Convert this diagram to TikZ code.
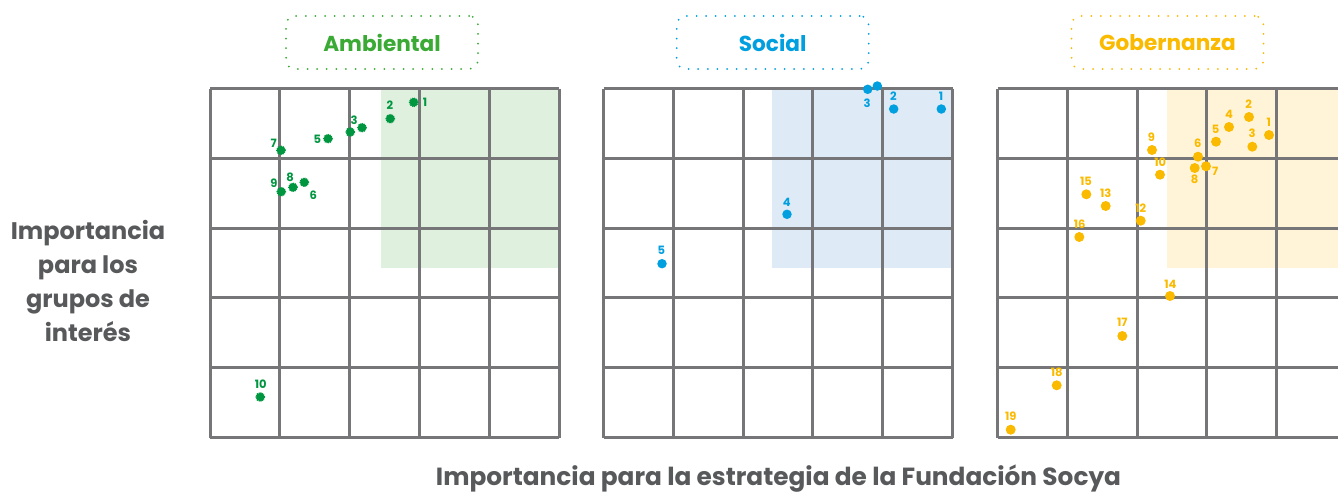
\documentclass[tikz,border=0pt]{standalone}
\usepackage{fontspec}
\setmainfont{Poppins}
\definecolor{gridc}{RGB}{118,118,121}
\definecolor{txt}{RGB}{88,89,91}
\definecolor{gtitle}{RGB}{58,170,53}
\definecolor{gdot}{RGB}{0,150,64}
\definecolor{bdot}{RGB}{0,159,223}
\definecolor{ydot}{RGB}{250,186,0}
\definecolor{gshade}{RGB}{224,240,222}
\definecolor{bshade}{RGB}{222,234,245}
\definecolor{yshade}{RGB}{255,244,215}
\tikzset{
  gridline/.style={draw=gridc, line width=3pt},
  titlebox/.style={rounded corners=9pt, line width=2pt, dash pattern=on 0pt off 9.6pt, line cap=round,
     minimum width=192pt, minimum height=53pt, inner sep=0pt, font=\fontsize{21.6}{25}\selectfont\bfseries},
  gmark/.style={circle, fill=gdot, draw=gdot, line width=1.3pt, dash pattern=on 0.9pt off 0.9pt, minimum size=8.5pt, inner sep=0pt},
  bmark/.style={circle, fill=bdot, minimum size=9.5pt, inner sep=0pt},
  ymark/.style={circle, fill=ydot, minimum size=10pt, inner sep=0pt},
  numlab/.style={font=\fontsize{11.5}{13}\selectfont\bfseries, inner sep=0pt},
  glab/.style={numlab, text=gdot},
  blab/.style={numlab, text=bdot},
  ylab/.style={numlab, text=ydot},
  axislab/.style={text=txt, font=\fontsize{24}{33.7}\selectfont\bfseries, align=center, inner sep=0pt},
}
\begin{document}
\begin{tikzpicture}[x=1pt,y=-1pt]
\useasboundingbox (0,0) rectangle (1338,495);
\clip (0,0) rectangle (1338,495);
\fill[white] (0,0) rectangle (1338,495);
% shaded zones
\fill[gshade] (381,88.5) rectangle (559,267.7);
\fill[bshade] (772,88.5) rectangle (952.5,267.7);
\fill[yshade] (1167,88.5) rectangle (1346.5,267.7);
% grids
\foreach \ox in {210,603.5,997.5}{
  \foreach \k in {0,...,5}{
    \draw[gridline] ({\ox+\k*69.8},88.5) -- ({\ox+\k*69.8},437.5);
    \draw[gridline] (\ox,{88.5+\k*69.8}) -- ({\ox+349},{88.5+\k*69.8});
  }
}
% titles
\node[titlebox, draw=gtitle, text=gtitle] (tA) at (382,42.5) {Ambiental};
\node[titlebox, draw=bdot, text=bdot] (tS) at (772.7,42.5) {Social};
\node[titlebox, draw=ydot, text=ydot] (tG) at (1167.5,42.5) {Gobernanza};
% axis labels
\node[axislab] (ly) at (88,281) {Importancia\\para los\\grupos de\\interés};
\node[axislab, anchor=base, font=\fontsize{24.8}{30}\selectfont\bfseries] (lx) at (778.5,485) {Importancia para la estrategia de la Fundación Socya};
% Ambiental markers
\node[gmark] (a1) at (413.7,102.3) {};
\node[gmark] (a2) at (390.3,118.7) {};
\node[gmark] (a3) at (350.3,132) {};
\node[gmark] (a3b) at (362,127.7) {};
\node[gmark] (a5) at (328,138.7) {};
\node[gmark] (a7) at (281,150.3) {};
\node[gmark] (a9) at (281.3,191.7) {};
\node[gmark] (a8) at (293,187.3) {};
\node[gmark] (a6) at (304.3,182.3) {};
\node[gmark] (a10) at (260.3,397) {};
\node[glab] (la1) at (425,102.7) {1};
\node[glab] (la2) at (390,105.7) {2};
\node[glab] (la3) at (354,120.3) {3};
\node[glab] (la5) at (317.3,139.3) {5};
\node[glab] (la7) at (273.7,143.3) {7};
\node[glab] (la9) at (274,183.3) {9};
\node[glab] (la8) at (290,177) {8};
\node[glab] (la6) at (313.3,195.3) {6};
\node[glab] (la10) at (260.7,384.3) {10};
% Social markers
\node[bmark] (s1) at (941.3,109) {};
\node[bmark] (s2) at (893.7,109) {};
\node[bmark] (s3) at (867.7,89.3) {};
\node[bmark] (s3b) at (877.3,86) {};
\node[bmark] (s4) at (787,214.3) {};
\node[bmark] (s5) at (662,263.7) {};
\node[blab] (ls1) at (941,96.3) {1};
\node[blab] (ls2) at (893.3,96.3) {2};
\node[blab] (ls3) at (867,103) {3};
\node[blab] (ls4) at (786.7,202) {4};
\node[blab] (ls5) at (661.3,250.7) {5};
% Gobernanza markers
\foreach \n/\px/\py/\lx/\ly in {
  1/1269/135/1268.7/122.3,
  2/1249/117/1248.7/104.3,
  3/1252.3/146.7/1252/133.7,
  4/1229/127/1229/114.3,
  5/1216/141.7/1215.7/129.3,
  6/1198/156.7/1197.7/143.7,
  7/1206/166.3/1215.3/171.3,
  8/1194.7/168/1194.7/179.7,
  9/1152/150/1151.3/137.3,
  10/1160/174.7/1160.3/162,
  12/1140.7/220.7/1140.7/208,
  13/1105.7/206/1105.7/193.7,
  15/1086.3/194.3/1086/181.3,
  16/1079.3/237/1079.7/224.7,
  14/1170/296/1170.3/284,
  17/1122.3/336/1122.3/322.7,
  18/1056.7/385.3/1056.7/372.7,
  19/1010.7/429.7/1010.7/416.3}{
  \node[ymark] (g\n) at (\px,\py) {};
  \node[ylab] (lg\n) at (\lx,\ly) {\n};
}
\end{tikzpicture}
\end{document}
